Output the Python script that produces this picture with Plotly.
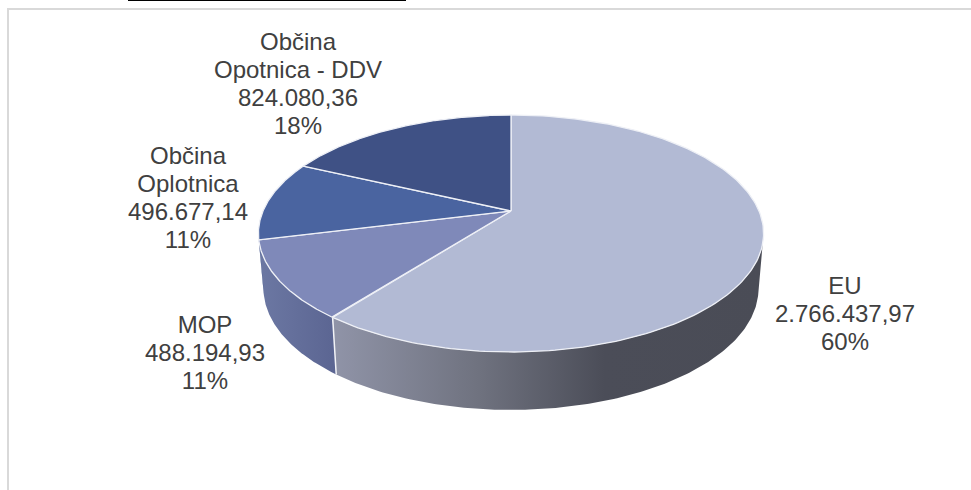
import numpy as np
import plotly.graph_objects as go

# Funding sources of the project (EUR)
names = [["EU"], ["MOP"], ["Občina", "Oplotnica"], ["Občina", "Opotnica - DDV"]]
values = [2766437.97, 488194.93, 496677.14, 824080.36]
top_colors = ["#b2bad4", "#7f89b9", "#4a64a0", "#3f5185"]
wall_colors = [
    [[0, "#9094a8"], [0.34, "#6f727f"], [0.63, "#4b4d58"], [1, "#4a4c56"]],
    [[0, "#6c78a3"], [1, "#5b6592"]],
    [[0, "#41578c"], [1, "#41578c"]],
    [[0, "#34426c"], [1, "#34426c"]],
]
# Centre of each label block, in pixels
label_centres = [(845, 316), (205, 355), (188, 200), (298, 86)]

WIDTH, HEIGHT = 971, 490
LINE_STEP = 27.7
TILT = 0.19  # perspective strength of the tilted disc
# Angles where the disc outline turns, which bound the visible side wall
WALL_START = np.degrees(np.arccos(-TILT))
WALL_END = 360 - WALL_START


def euro(v):
    s = f"{v:,.2f}"
    return s.replace(",", "_").replace(".", ",").replace("_", ".")


def project(deg, cy, a, b):
    """Clockwise angle from 12 o'clock on the disc -> page pixels with perspective."""
    t = np.radians(deg)
    X, Z = np.sin(t), -np.cos(t)
    d = 1 - TILT * Z
    return 511 + b * X / d, cy + a * Z / d


def top(deg):
    return project(deg, 211, 114.2, 248)


def bottom(deg):
    return project(deg, 265.5, 117, 243)


total = sum(values)
edges = np.concatenate([[0], np.cumsum(values) / total * 360])
fig = go.Figure()

# Side wall of the disc, only the arcs turned towards the viewer
for i, grad in enumerate(wall_colors):
    lo, hi = max(edges[i], WALL_START), min(edges[i + 1], WALL_END)
    if hi <= lo:
        continue
    arc = np.linspace(lo, hi, 160)
    tx, ty = top(arc)
    bx, by = bottom(arc)
    fig.add_trace(go.Scatter(
        x=np.concatenate([tx, bx[::-1], tx[:1]]),
        y=np.concatenate([ty, by[::-1], ty[:1]]),
        mode="lines", line=dict(width=0), fill="toself",
        fillgradient=dict(type="horizontal", colorscale=grad),
        hoverinfo="skip",
    ))

# White seams where slices meet on the wall
for e in edges[1:-1]:
    tx, ty = top(e)
    bx, by = bottom(e)
    if -np.cos(np.radians(e)) > 0 and abs(np.sin(np.radians(e))) < 0.9:
        fig.add_trace(go.Scatter(
            x=[tx, bx], y=[ty, by], mode="lines",
            line=dict(color="#f2f3f7", width=1.5), hoverinfo="skip",
        ))

# Top face slices
for i, color in enumerate(top_colors):
    arc = np.linspace(edges[i], edges[i + 1], 200)
    ax, ay = top(arc)
    fig.add_trace(go.Scatter(
        x=np.concatenate([[511], ax, [511]]),
        y=np.concatenate([[211], ay, [211]]),
        mode="lines", fill="toself", fillcolor=color,
        line=dict(color="#eef0f6", width=1.3),
        hoverinfo="skip",
    ))

# Data labels, one text point per line so the leading stays tight
lx, ly, lt = [], [], []
for name, v, (cx, cy) in zip(names, values, label_centres):
    lines = name + [euro(v), f"{v / total * 100:.0f}%"]
    for k, line in enumerate(lines):
        lx.append(cx)
        ly.append(cy + (k - (len(lines) - 1) / 2) * LINE_STEP)
        lt.append(line)
fig.add_trace(go.Scatter(
    x=lx, y=ly, text=lt, mode="text", textposition="middle center",
    textfont=dict(family="Liberation Sans, Arial, sans-serif", size=24, color="#404040"),
    hoverinfo="skip",
))

fig.update_layout(
    width=WIDTH, height=HEIGHT, margin=dict(l=0, r=0, t=0, b=0),
    paper_bgcolor="white", plot_bgcolor="white", showlegend=False,
    xaxis=dict(range=[0, WIDTH], visible=False, fixedrange=True),
    yaxis=dict(range=[HEIGHT, 0], visible=False, fixedrange=True),
    shapes=[
        dict(type="line", x0=8, x1=8, y0=9, y1=HEIGHT, line=dict(color="#d9d9d9", width=2), layer="below"),
        dict(type="line", x0=7, x1=WIDTH, y0=9, y1=9, line=dict(color="#d9d9d9", width=2), layer="below"),
        dict(type="line", x0=128, x1=406, y0=0.5, y1=0.5, line=dict(color="#000000", width=1), layer="below"),
    ],
)

fig.write_html("out.html", config=dict(displayModeBar=False))
